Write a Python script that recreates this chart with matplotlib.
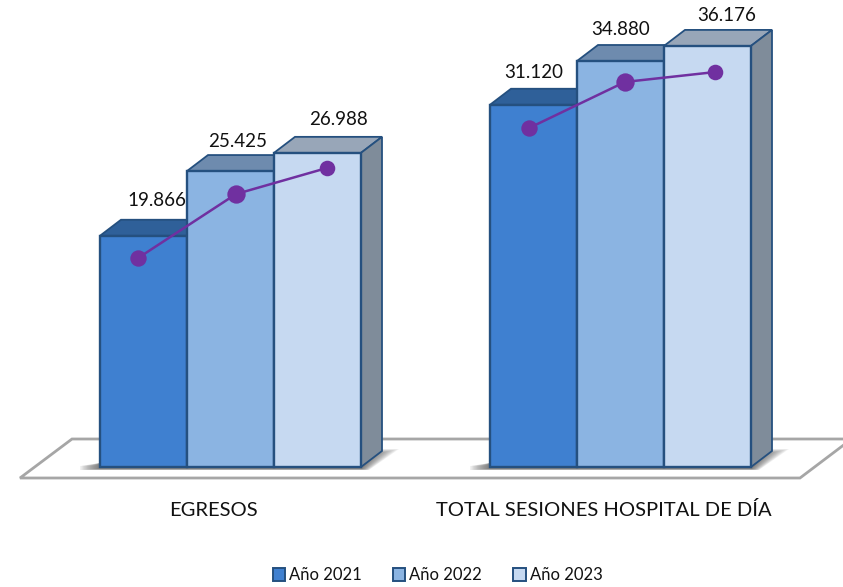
import matplotlib
matplotlib.use("Agg")
import matplotlib.pyplot as plt
from matplotlib.patches import Patch, Polygon

categories = ["EGRESOS", "TOTAL SESIONES HOSPITAL DE DÍA"]
years = ["Año 2021", "Año 2022", "Año 2023"]
bars_2021 = [19866, 31120]
bars_2022 = [25425, 34880]
bars_2023 = [26988, 36176]
value_labels = [["19.866", "25.425", "26.988"], ["31.120", "34.880", "36.176"]]
line_egresos = [17950, 23450, 25690]
line_sesiones = [29120, 33080, 33930]

front_cols = ["#3F80D0", "#8BB4E2", "#C6D9F1"]
top_cols = ["#2F6099", "#6E8BAE", "#98A6B8"]
side_col = "#7F8C9A"
edge_col = "#25507F"
purple = "#7030A0"

plt.rcParams["font.family"] = ["Lato", "DejaVu Sans"]

# scales: 390 px between groups, 0.01164 px per unit
px_x = 390.0
px_y = 0.01164
x0_px = 230.5
y0_px = 467.0

fig = plt.figure(figsize=(8.43, 5.87), dpi=100)
ax = fig.add_axes([0, 0, 1, 1])
ax.set_xlim(-x0_px / px_x, (843 - x0_px) / px_x)
ax.set_ylim(-(587 - y0_px) / px_y, y0_px / px_y)
ax.axis("off")

bar_w = 87 / px_x
dx = 21 / px_x
dy = 16 / px_y


def fx(p):
    return (p - x0_px) / px_x


def fy(p):
    return (y0_px - p) / px_y


# floor
ax.plot([fx(845), fx(72), fx(20), fx(800), fx(845)],
        [fy(439), fy(439), fy(478), fy(478), fy(444)],
        color="#A6A6A6", lw=2.0, zorder=1, solid_joinstyle="miter")

# shadow under each group, stacked see-through wedges
for g in range(2):
    left = g - 1.5 * bar_w
    right = g + 1.5 * bar_w
    for i in range(14):
        k = i / 14
        ax.add_patch(Polygon([(left - 20 * (1 - k) / px_x, fy(470 - k)),
                              (right + 8 * (1 - k) / px_x, fy(470 - k)),
                              (right + (10 + 28 * (1 - k)) / px_x, fy(449 + 6 * k)),
                              (right, fy(449 + 6 * k)),
                              (right, fy(463)),
                              (left, fy(463)),
                              (left - 20 * (1 - k) / px_x, fy(466))],
                             facecolor="#404040", edgecolor="none", alpha=0.07, zorder=2))

# bars with fake 3d
series = [bars_2021, bars_2022, bars_2023]
for s, vals in enumerate(series):
    offs = [g + (s - 1) * bar_w for g in range(2)]
    for x, v in zip(offs, vals):
        l = x - bar_w / 2
        r = x + bar_w / 2
        z = 3 + s
        ax.add_patch(Polygon([(l, v), (l + dx, v + dy), (r + dx, v + dy), (r, v)],
                             facecolor=top_cols[s], edgecolor=edge_col, lw=1.3, zorder=z))
        ax.add_patch(Polygon([(r, 0), (r + dx, dy), (r + dx, v + dy), (r, v)],
                             facecolor=side_col, edgecolor=edge_col, lw=1.3, zorder=z))
    ax.bar(offs, vals, bar_w, color=front_cols[s], edgecolor=edge_col, lw=1.7, zorder=z + 0.5)

# purple lines
line_off = [[-5.5, 5.5, 9.5], [-4.5, 4.5, 7.5]]
marker_sizes = [11.8, 13.2, 11.2]
for g, vals in enumerate([line_egresos, line_sesiones]):
    xs = [g + (i - 1) * bar_w + line_off[g][i] / px_x for i in range(3)]
    ax.plot(xs, vals, color=purple, lw=1.8, zorder=8)
    for i in range(3):
        ax.plot(xs[i], vals[i], "o", color=purple, ms=marker_sizes[i], mew=0, zorder=8)

# value labels, offset in pixels from the bar top
lab_off = [[(13.5, 35), (7.5, 30), (20.5, 33)], [(0, 32), (0, 31), (19.5, 30)]]
for g in range(2):
    for s in range(3):
        ax.annotate(value_labels[g][s], (g + (s - 1) * bar_w, series[s][g]),
                    xytext=(lab_off[g][s][0] * 0.72, lab_off[g][s][1] * 0.72),
                    textcoords="offset points", ha="center", va="center",
                    fontsize=13.5, color="#111111", zorder=9)

# category names
for g, name in enumerate(categories):
    ax.text(g - 17 / px_x, fy(510), name, ha="center", va="center", fontsize=14.5, color="#111111")

handles = [Patch(facecolor=front_cols[i], edgecolor=edge_col, lw=1.4, label=years[i]) for i in range(3)]
ax.legend(handles=handles, ncol=3, loc="center", bbox_to_anchor=(437.5 / 843, 1 - 575 / 587),
          frameon=False, fontsize=12, handlelength=0.75, handleheight=0.8,
          handletextpad=0.25, columnspacing=1.85, labelcolor="#111111")

fig.savefig("out.png", dpi=100)
